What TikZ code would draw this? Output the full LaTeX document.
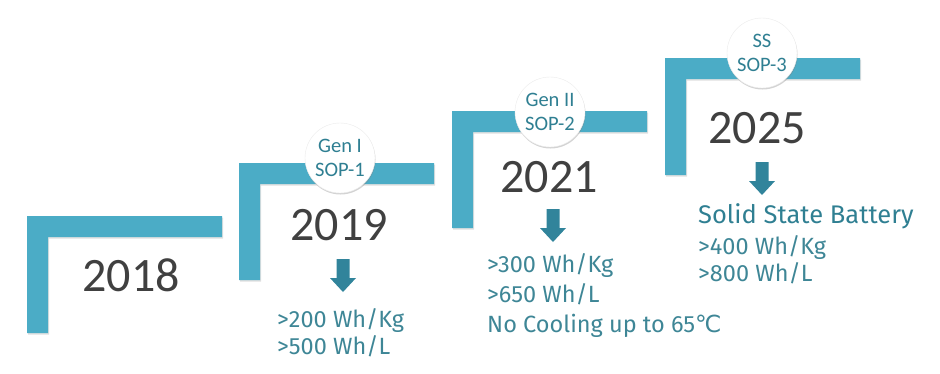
\documentclass[tikz,border=0pt]{standalone}
\usepackage{fontspec}
\setmainfont{Carlito}
\newfontfamily\specfont{Fira Sans}
\newfontfamily\symfont{DejaVu Sans}
\usetikzlibrary{shadows}
\definecolor{barblue}{HTML}{4BACC6}
\definecolor{arrteal}{HTML}{31849B}
\definecolor{txtteal}{HTML}{3E8696}
\definecolor{circteal}{HTML}{2F7F92}
\definecolor{yeargray}{HTML}{404040}
\tikzset{
  barshape/.style={fill=barblue, drop shadow={shadow xshift=1pt, shadow yshift=-1.5pt, opacity=0.25}},
  circnode/.style={circle, fill=white, draw=black!8, minimum size=70pt, inner sep=0pt, align=center,
    text=circteal, font=\fontsize{20.5}{24.5}\selectfont,
    drop shadow={shadow xshift=0.5pt, shadow yshift=-1.5pt, opacity=0.35}},
  yearnode/.style={inner sep=0pt, text=yeargray, font=\fontsize{48}{48}\selectfont},
  specline/.style={anchor=base west, inner sep=0pt, text=txtteal, font=\specfont\fontsize{23.5}{27}\selectfont},
  spechead/.style={anchor=base west, inner sep=0pt, text=circteal, font=\specfont\fontsize{25.5}{30}\selectfont},
  downarr/.pic={\fill[arrteal] (-6.5,0) -- (6.5,0) -- (6.5,19) -- (13,19) -- (0,33) -- (-13,19) -- (-6.5,19) -- cycle;}
}
\begin{document}
\begin{tikzpicture}[x=1pt,y=-1pt]
\useasboundingbox (0,0) rectangle (940,373);
% L-shaped steps
\foreach \bx/\by in {27/216,239/163,452/111,665/58}{
  \fill[barshape] (\bx,\by) -- ++(195,0) -- ++(0,21) -- ++(-174,0) -- ++(0,96) -- ++(-21,0) -- cycle;
}
% circles
\node[circnode] (c1) at (340,158) {Gen I\\SOP-1};
\node[circnode] (c2) at (550,112) {Gen II\\SOP-2};
\node[circnode] (c3) at (762,53) {SS\\SOP-3};
% years
\node[yearnode] (y18) at (131,275) {2018};
\node[yearnode] (y19) at (339,225) {2019};
\node[yearnode] (y21) at (549,177) {2021};
\node[yearnode] (y25) at (757,128) {2025};
% arrows
\pic at (343,259) {downarr};
\pic at (553,209) {downarr};
\pic at (762,162) {downarr};
% specs
\node[specline] (s1a) at (277,327) {>200 Wh/Kg};
\node[specline] (s1b) at (277,354) {>500 Wh/L};
\node[specline] (s2a) at (487,272) {>300 Wh/Kg};
\node[specline] (s2b) at (487,302) {>650 Wh/L};
\node[specline] (s2c) at (487,332) {No Cooling up to 65{\symfont ℃}};
\node[spechead] (s3h) at (698,223) {Solid State Battery};
\node[specline] (s3a) at (698,254) {>400 Wh/Kg};
\node[specline] (s3b) at (698,281) {>800 Wh/L};
\end{tikzpicture}
\end{document}
